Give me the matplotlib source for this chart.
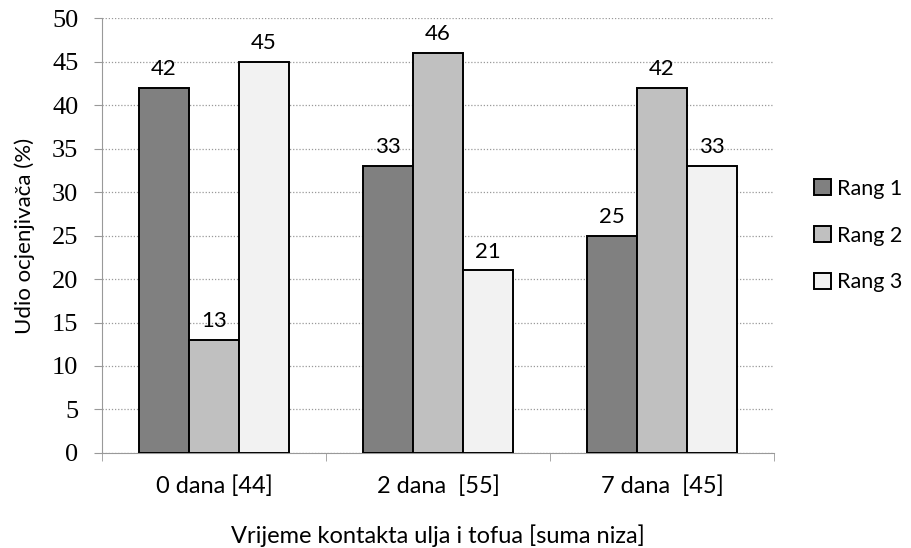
import numpy as np
import matplotlib.pyplot as plt
from matplotlib.ticker import MultipleLocator

categories = ["0 dana [44]", "2 dana  [55]", "7 dana  [45]"]
series_names = ["Rang 1", "Rang 2", "Rang 3"]
rang1 = [42, 33, 25]
rang2 = [13, 46, 42]
rang3 = [45, 21, 33]
colors = ["#808080", "#c0c0c0", "#f2f2f2"]

sans = "Lato"
fig = plt.figure(figsize=(9.12, 5.48), dpi=100)
ax = fig.add_axes([0.1118, 0.1734, 0.737, 0.7936])

x = np.arange(len(categories))
width = 0.223
for i, (vals, name, c) in enumerate(zip([rang1, rang2, rang3], series_names, colors)):
    pos = x + (i - 1) * width
    bars = ax.bar(pos, vals, width, color=c, edgecolor="black", linewidth=1.4,
                  label=name, zorder=3)
    for b, v in zip(bars, vals):
        ax.text(b.get_x() + b.get_width() / 2, v + 1.0, str(v), ha="center",
                va="bottom", fontsize=16, family=sans)

ax.set_xlim(-0.5, 2.5)
ax.set_ylim(0, 50)
ax.yaxis.set_major_locator(MultipleLocator(5))
ax.grid(axis="y", linestyle=(0, (1, 1.5)), color="#999999", linewidth=0.9, zorder=0)
ax.set_xticks(x)
ax.set_xticklabels(categories, fontsize=17, family=sans)
ax.set_xticks([-0.5, 0.5, 1.5, 2.5], minor=True)
ax.tick_params(axis="x", which="major", length=0, pad=16)
ax.tick_params(axis="x", which="minor", length=6, color="#999999", direction="out")
ax.tick_params(axis="y", length=6, color="#999999", direction="out", pad=11)
for lab in ax.get_yticklabels():
    lab.set_family("Liberation Serif")
    lab.set_fontsize(19)

for side in ["top", "right"]:
    ax.spines[side].set_visible(False)
for side in ["left", "bottom"]:
    ax.spines[side].set_color("#999999")

ax.set_ylabel("Udio ocjenjivača (%)", fontsize=16, family=sans, labelpad=12)
ax.set_xlabel("Vrijeme kontakta ulja i tofua [suma niza]", fontsize=17,
              family=sans, labelpad=20)

leg = ax.legend(loc="center left", bbox_to_anchor=(1.03, 0.5), frameon=False,
                prop={"family": sans, "size": 15.5}, handlelength=0.8,
                handleheight=0.8, handletextpad=0.3, labelspacing=1.25)

fig.savefig("out.png", dpi=100)
